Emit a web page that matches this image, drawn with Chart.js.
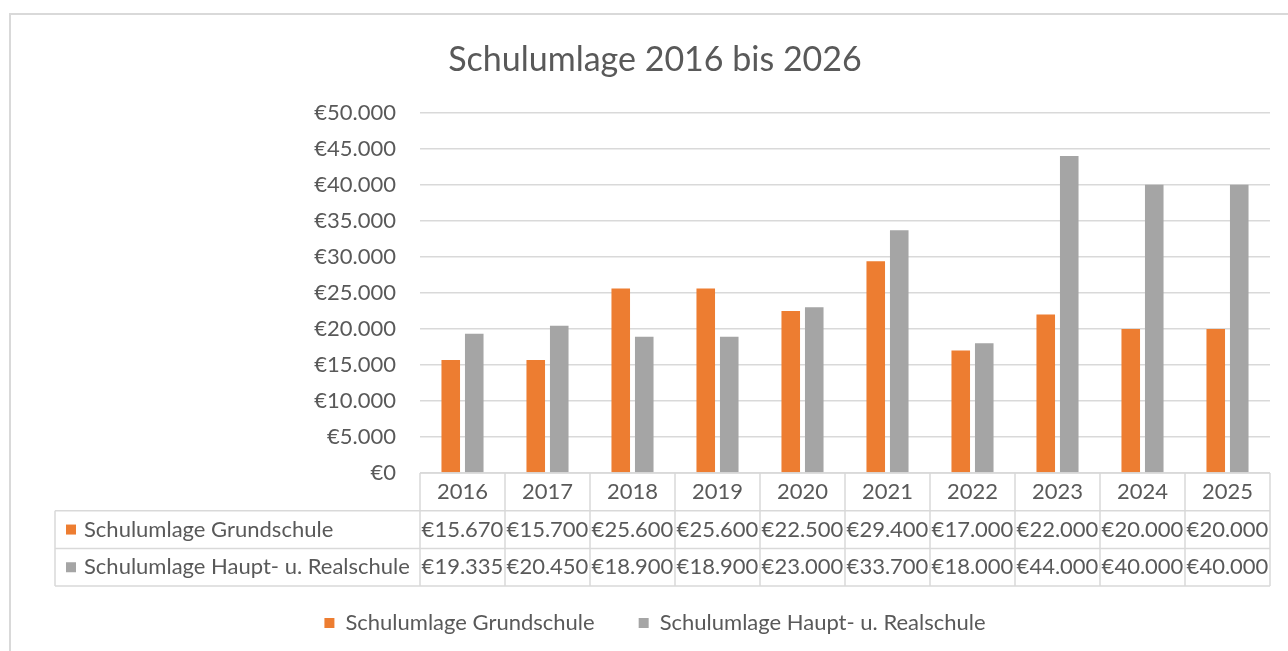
<!DOCTYPE html>
<html>
<head>
<meta charset="utf-8">
<script src="https://cdn.jsdelivr.net/npm/chart.js@4.4.1/dist/chart.umd.min.js"></script>
<style>
  html, body { margin: 0; padding: 0; background: #fff; overflow: hidden; }
  #frame { position: absolute; left: 9px; top: 13px; width: 1320px; height: 700px; border: 2px solid #d9d9d9; }
  #wrap { position: absolute; left: 0; top: 0; width: 1288px; height: 651px; }
</style>
</head>
<body>
<div id="frame"></div>
<div id="wrap"><canvas id="chart"></canvas></div>
<script>
// Daten
const years = ['2016', '2017', '2018', '2019', '2020', '2021', '2022', '2023', '2024', '2025'];
const grundschule = [15670, 15700, 25600, 25600, 22500, 29400, 17000, 22000, 20000, 20000];
const hauptReal = [19335, 20450, 18900, 18900, 23000, 33700, 18000, 44000, 40000, 40000];
const seriesNames = ['Schulumlage Grundschule', 'Schulumlage Haupt- u. Realschule'];
const seriesColors = ['#ED7D31', '#A5A5A5'];

const textColor = '#595959';
const lineColor = '#d9d9d9';
const fontFamily = 'Lato, "Open Sans", sans-serif';
const tableRowH = 37.7;

function euro(v) {
  return '€' + String(v).replace(/\B(?=(\d{3})+(?!\d))/g, '.');
}

// Datentabelle unter der x-Achse
const dataTable = {
  id: 'dataTable',
  afterDraw(chart) {
    const { ctx, chartArea, scales: { x } } = chart;
    const top = chartArea.bottom;
    const rowH = tableRowH;
    const bottom = top + rowH * 3;
    const colW = x.width / years.length;
    const labelLeft = 55;
    const rows = [grundschule, hauptReal];

    ctx.save();
    ctx.strokeStyle = lineColor;
    ctx.lineWidth = 1.5;
    ctx.beginPath();
    ctx.moveTo(x.left, top); ctx.lineTo(x.right, top);
    for (let r = 1; r <= 3; r++) {
      ctx.moveTo(labelLeft, top + rowH * r); ctx.lineTo(x.right, top + rowH * r);
    }
    for (let i = 0; i <= years.length; i++) {
      const px = x.left + colW * i;
      ctx.moveTo(px, top); ctx.lineTo(px, bottom);
    }
    ctx.moveTo(labelLeft, top + rowH); ctx.lineTo(labelLeft, bottom);
    ctx.stroke();

    ctx.font = '22px ' + fontFamily;
    ctx.fillStyle = textColor;
    ctx.textBaseline = 'middle';
    rows.forEach((vals, r) => {
      const cy = top + rowH * (r + 1.5);
      ctx.fillStyle = seriesColors[r];
      ctx.fillRect(66, cy - 5, 10, 10);
      ctx.fillStyle = textColor;
      ctx.textAlign = 'left';
      ctx.fillText(seriesNames[r], 84, cy);
      ctx.textAlign = 'center';
      vals.forEach((v, i) => {
        ctx.fillText(euro(v), x.getPixelForValue(i), cy);
      });
    });
    ctx.restore();
  }
};

new Chart(document.getElementById('chart'), {
  type: 'bar',
  data: {
    labels: years,
    datasets: [
      { label: seriesNames[0], data: grundschule, backgroundColor: seriesColors[0],
        categoryPercentage: 0.553, barPercentage: 0.79 },
      { label: seriesNames[1], data: hauptReal, backgroundColor: seriesColors[1],
        categoryPercentage: 0.553, barPercentage: 0.79 }
    ]
  },
  options: {
    responsive: true,
    maintainAspectRatio: false,
    animation: false,
    layout: { padding: { left: 40, right: 18, top: 0, bottom: 7 } },
    plugins: {
      title: {
        display: true,
        text: 'Schulumlage 2016 bis 2026',
        color: textColor,
        font: { family: fontFamily, size: 34, weight: 'normal' },
        padding: { top: 40, bottom: 32 }
      },
      legend: {
        position: 'bottom',
        labels: {
          color: textColor,
          font: { family: fontFamily, size: 22 },
          boxWidth: 10, boxHeight: 10, padding: 44
        }
      },
      tooltip: { enabled: false }
    },
    scales: {
      x: {
        grid: { display: false, drawTicks: false },
        border: { display: false },
        ticks: { color: textColor, font: { family: fontFamily, size: 22 }, padding: 6 },
        afterFit(scale) { scale.height = 95; }
      },
      y: {
        min: 0, max: 50000,
        grid: { color: lineColor, lineWidth: 1.5, drawTicks: false },
        border: { display: false },
        ticks: { stepSize: 5000, color: textColor, padding: 24,
          font: { family: fontFamily, size: 22 },
          callback: v => euro(v) },
        afterFit(scale) { scale.width = 380; }
      }
    }
  },
  plugins: [dataTable]
});
</script>
</body>
</html>
